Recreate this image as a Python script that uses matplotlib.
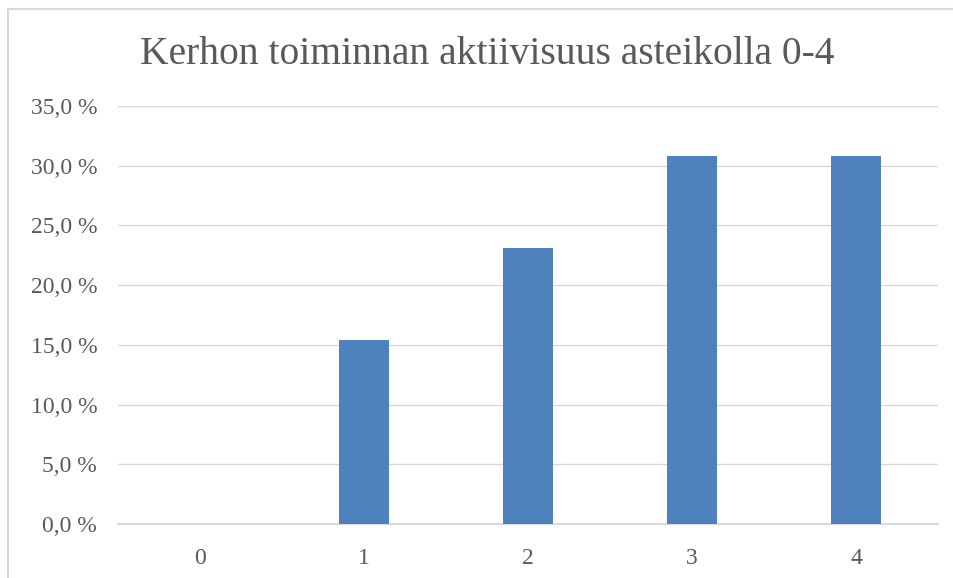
import matplotlib
matplotlib.use('Agg')
import matplotlib.pyplot as plt
from matplotlib.patches import Rectangle

# Data
categories = ['0', '1', '2', '3', '4']
shares = [0.0, 15.4, 23.1, 30.8, 30.8]
y_ticks = [0, 5, 10, 15, 20, 25, 30, 35]

text_color = '#595959'
grid_color = '#d9d9d9'
bar_color = '#4f81bd'

plt.rcParams['font.family'] = ['Liberation Serif', 'DejaVu Serif']

fig = plt.figure(figsize=(9.54, 5.78), dpi=100)
ax = fig.add_axes([118 / 954, 54 / 578, 820 / 954, 418 / 578])

x = list(range(len(categories)))
ax.bar(x, shares, width=0.31, color=bar_color, zorder=3)

ax.set_xlim(-0.5, len(categories) - 0.5)
ax.set_ylim(0, 35)
ax.set_xticks(x)
ax.set_xticklabels(categories)
ax.set_yticks(y_ticks)
ax.set_yticklabels([f'{v:.1f} %'.replace('.', ',') for v in y_ticks])
ax.tick_params(axis='both', length=0, labelsize=17, colors=text_color)
ax.tick_params(axis='y', pad=15)
ax.tick_params(axis='x', pad=17)

ax.grid(axis='y', color=grid_color, linewidth=1, zorder=0)
for side in ['top', 'right', 'left']:
    ax.spines[side].set_visible(False)
ax.spines['bottom'].set_color(grid_color)
ax.spines['bottom'].set_linewidth(1.5)

fig.text(0.5 * (140 + 835) / 954, 1 - 55 / 578, 'Kerhon toiminnan aktiivisuus asteikolla 0-4',
         ha='center', va='center', fontsize=28.5, color=text_color)

# chart border (right and bottom edges lie outside the picture)
fig.patches.append(Rectangle((8 / 954, -0.05), 1.0, 1 - 9 / 578 + 0.05,
                             transform=fig.transFigure, fill=False,
                             edgecolor=grid_color, linewidth=1.5))

fig.savefig('out.png', dpi=100)
